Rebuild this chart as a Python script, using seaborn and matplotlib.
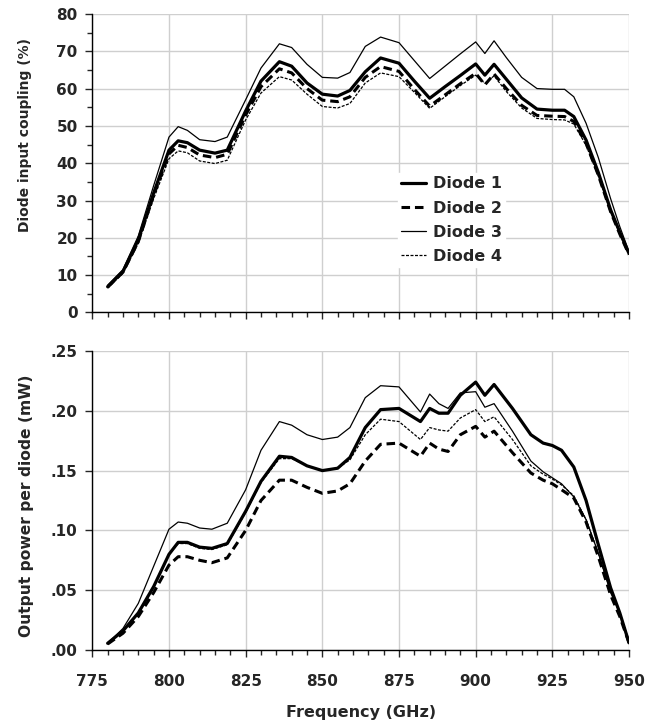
import matplotlib
matplotlib.use("Agg")
import matplotlib.pyplot as plt
import matplotlib.ticker as mticker
import pandas as pd
import seaborn as sns

# --- top panel: diode input coupling (%) ---
freq_top = [780, 785, 790, 795, 800, 803, 806, 810, 815, 819, 825, 830, 836, 840,
            845, 850, 855, 859, 864, 869, 875, 880, 885, 890, 895, 900, 903, 906,
            910, 915, 920, 925, 929, 932, 936, 940, 944, 947, 950]
coupling_d1 = [6.9, 11, 19.5, 32, 43.5, 46, 45.5, 43.5, 42.7, 43.5, 54, 62, 67.2, 66,
               61.5, 58.5, 58, 59.5, 64.5, 68.2, 66.8, 62, 57.4, 60.5, 63.5, 66.6, 63.6, 66.5,
               62.5, 57.5, 54.5, 54.2, 54.2, 52.5, 46.2, 37.5, 27.5, 21.5, 15.8]
coupling_d2 = [6.8, 10.8, 19, 31.5, 42.5, 44.8, 44.2, 42.2, 41.5, 42.4, 52.9, 60.5, 65.3, 64.2,
               60, 56.9, 56.5, 57.8, 63, 65.9, 64.6, 59.8, 55.3, 58.3, 61.3, 64.1, 61, 63.9,
               60, 55.5, 52.8, 52.6, 52.5, 51.2, 45.3, 36.8, 27, 21, 15.5]
coupling_d3 = [7.3, 11.5, 20.5, 34, 47, 49.8, 48.8, 46.3, 45.8, 47, 57, 65.5, 72, 71,
               66.5, 63, 62.8, 64.3, 71.3, 73.8, 72.3, 67.5, 62.7, 66, 69.3, 72.5, 69.4, 72.8,
               68.3, 63, 60, 59.8, 59.8, 57.8, 50.7, 41.5, 30.5, 23, 16.3]
coupling_d4 = [6.5, 10.5, 18.5, 30.5, 41.2, 43.3, 42.8, 40.6, 39.9, 40.8, 51.6, 58.8, 63.2, 62.3,
               58.5, 55.2, 54.8, 56, 61.5, 64.2, 63.2, 59, 54.7, 57.8, 60.8, 63.6, 61.4, 63.4,
               59.2, 54.8, 52, 51.7, 51.6, 50.5, 44.8, 36.5, 27, 21, 15.5]

# --- bottom panel: output power per diode (mW) ---
freq_bot = [780, 785, 790, 795, 800, 803, 806, 810, 814, 819, 825, 830, 836, 840,
            845, 850, 855, 859, 864, 869, 875, 882, 885, 888, 891, 895, 900, 903,
            906, 912, 918, 922, 925, 928, 932, 936, 940, 944, 947, 950]
power_d1 = [.0056, .016, .031, .053, .080, .090, .090, .086, .085, .089, .116, .141, .162, .161,
            .154, .150, .152, .161, .186, .201, .202, .191, .202, .198, .198, .213, .224, .213,
            .222, .202, .180, .173, .171, .167, .153, .125, .088, .052, .031, .006]
power_d2 = [.005, .014, .028, .048, .071, .078, .078, .075, .073, .077, .100, .125, .142, .142,
            .136, .131, .133, .139, .158, .172, .173, .162, .173, .168, .166, .180, .187, .178,
            .183, .165, .148, .142, .139, .134, .127, .107, .078, .046, .028, .006]
power_d3 = [.0056, .018, .039, .070, .101, .107, .106, .102, .101, .106, .134, .167, .191, .188,
            .180, .176, .178, .186, .211, .221, .220, .199, .214, .206, .202, .215, .216, .203,
            .206, .183, .158, .149, .144, .139, .128, .109, .081, .048, .031, .007]
power_d4 = [.0056, .016, .031, .053, .080, .089, .089, .085, .084, .088, .115, .140, .160, .160,
            .154, .150, .152, .159, .180, .193, .191, .176, .186, .184, .183, .194, .201, .191,
            .195, .176, .154, .147, .143, .138, .129, .109, .081, .049, .031, .007]

diode_labels = ["Diode 1", "Diode 2", "Diode 3", "Diode 4"]
line_styles = [
    dict(lw=2.3, ls="-"),
    dict(lw=2.2, ls=(0, (2.8, 1.6))),
    dict(lw=0.9, ls="-"),
    dict(lw=0.9, ls=(0, (2.4, 1.2))),
]

sns.set_style("ticks")
plt.rcParams["font.family"] = ["DejaVu Sans"]
plt.rcParams["font.weight"] = "bold"
plt.rcParams["font.size"] = 11

fig = plt.figure(figsize=(6.57, 7.26), dpi=100)
ax_top = fig.add_axes([0.1405, 0.5696, 0.8169, 0.4112])
ax_bot = fig.add_axes([0.1405, 0.1047, 0.8169, 0.4118])


def draw_panel(ax, freq, series):
    for label, vals, style in zip(diode_labels, series, line_styles):
        df = pd.DataFrame({"freq": freq, "val": vals})
        sns.lineplot(data=df, x="freq", y="val", ax=ax, color="black",
                     linewidth=style["lw"], linestyle=style["ls"], label=label)
    ax.set_xlim(775, 950)
    ax.xaxis.set_major_locator(mticker.MultipleLocator(25))
    ax.xaxis.set_minor_locator(mticker.MultipleLocator(5))
    ax.grid(True, which="major", color="#cfcfcf", linewidth=1.0)
    ax.set_axisbelow(True)
    for side in ("top", "right"):
        ax.spines[side].set_visible(False)
    for side in ("left", "bottom"):
        ax.spines[side].set_linewidth(1.0)
        ax.spines[side].set_color("black")
    ax.tick_params(which="major", direction="out", length=5, width=1, labelsize=11)
    ax.tick_params(axis="x", which="major", pad=12)
    ax.tick_params(axis="y", which="major", pad=5.5)
    ax.tick_params(which="minor", direction="out", length=3.5, width=1)
    for lab in ax.get_xticklabels() + ax.get_yticklabels():
        lab.set_fontweight("bold")


draw_panel(ax_top, freq_top, [coupling_d1, coupling_d2, coupling_d3, coupling_d4])
ax_top.set_ylim(0, 80)
ax_top.yaxis.set_major_locator(mticker.MultipleLocator(10))
ax_top.yaxis.set_minor_locator(mticker.MultipleLocator(5))
ax_top.set_xticklabels([])
ax_top.set_xlabel("")
ax_top.set_ylabel("Diode input coupling (%)", fontsize=10, fontweight="bold")
ax_top.yaxis.set_label_coords(-0.113, 0.595)
leg = ax_top.legend(loc="upper left", bbox_to_anchor=(0.555, 0.493), frameon=True,
                    fancybox=False, edgecolor="white", framealpha=1.0,
                    handlelength=1.55, handletextpad=0.45, labelspacing=0.57,
                    borderpad=0.2, prop=dict(weight="bold", size=11.5))

draw_panel(ax_bot, freq_bot, [power_d1, power_d2, power_d3, power_d4])
ax_bot.get_legend().remove()
ax_bot.set_ylim(0, 0.25)
ax_bot.yaxis.set_major_locator(mticker.MultipleLocator(0.05))
ax_bot.yaxis.set_major_formatter(
    mticker.FuncFormatter(lambda v, _: f"{v:.2f}".lstrip("0")))
ax_bot.set_xlabel("Frequency (GHz)", fontsize=11.5, fontweight="bold", labelpad=12)
ax_bot.set_ylabel("Output power per diode (mW)", fontsize=11.2, fontweight="bold")
ax_bot.yaxis.set_label_coords(-0.108, 0.482)
for lab in ax_bot.get_yticklabels():
    lab.set_fontweight("bold")

fig.savefig("out.png", dpi=100)
plt.close(fig)
